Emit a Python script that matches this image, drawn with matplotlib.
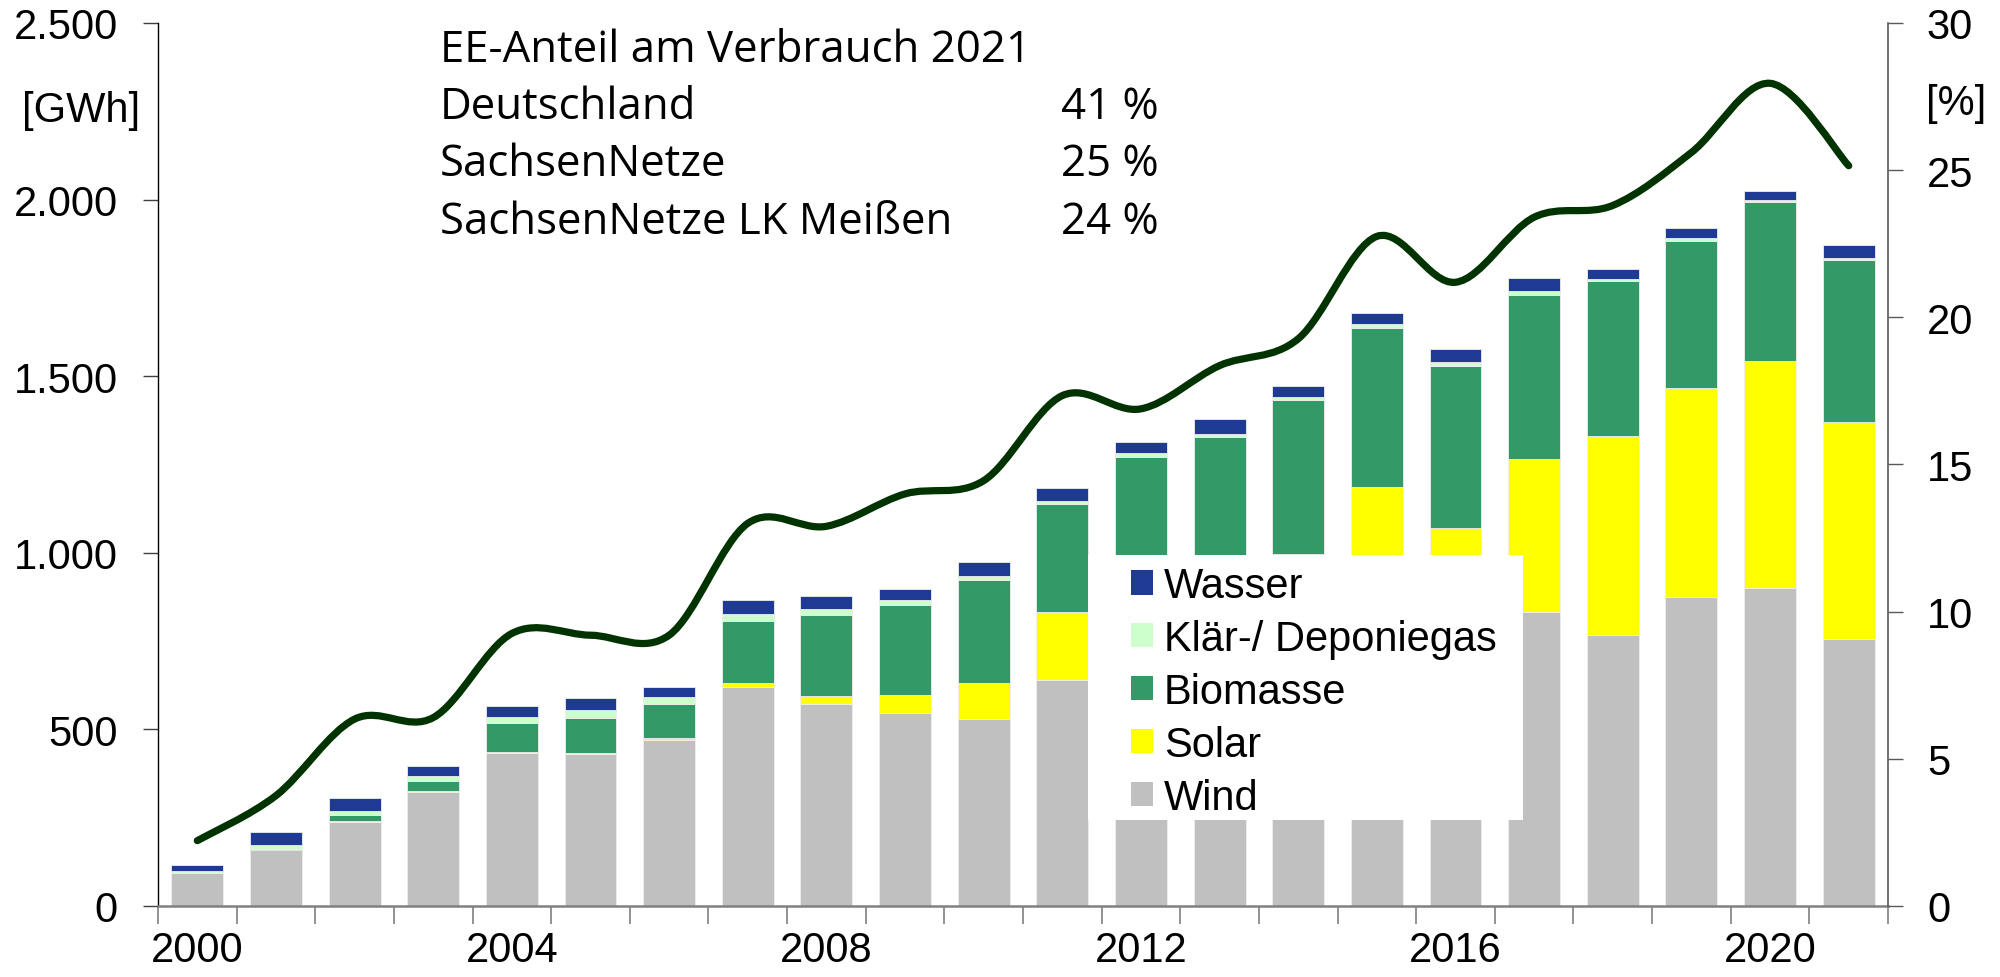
# libraries
import numpy as np
import matplotlib.pyplot as plt
from matplotlib.patches import Rectangle, PathPatch, Patch
from matplotlib.path import Path
from matplotlib.ticker import FuncFormatter

# data [GWh] per year
years = list(range(2000, 2022))
wind = [93, 159, 238, 324, 434, 429, 469, 620, 572, 547, 528, 641, 620, 560, 560, 720, 600, 832, 768, 875, 901, 757]
solar = [0, 0, 2, 1, 1, 4, 6, 10, 22, 49, 103, 190, 350, 400, 437, 467, 469, 434, 562, 592, 641, 612]
biomasse = [1, 3, 17, 29, 84, 99, 97, 177, 229, 255, 291, 307, 302, 367, 435, 450, 461, 465, 439, 417, 452, 461]
klaergas = [6, 10, 11, 15, 16, 23, 19, 21, 18, 14, 11, 10, 11, 9, 10, 10, 10, 9, 7, 6, 5, 5]
wasser = [15, 38, 37, 27, 30, 34, 28, 37, 36, 32, 41, 34, 31, 42, 31, 33, 36, 38, 27, 30, 26, 37]

# EE share of consumption [%]
ee_anteil = [2.22, 3.75, 6.35, 6.4, 9.26, 9.2, 9.2, 13.0, 12.9, 14.0, 14.45, 17.34, 16.89, 18.36, 19.27,
             22.75, 21.19, 23.4, 23.8, 25.6, 27.95, 25.15]

series = [("Wind", wind, "#C0C0C0"), ("Solar", solar, "#FFFF00"), ("Biomasse", biomasse, "#339966"),
          ("Klär-/ Deponiegas", klaergas, "#CCFFCC"), ("Wasser", wasser, "#1F3A93")]

info_rows = [("Deutschland", "41 %"), ("SachsenNetze", "25 %"), ("SachsenNetze LK Meißen", "24 %")]

plt.rcParams['font.family'] = ['Liberation Sans', 'DejaVu Sans']

fig = plt.figure(figsize=(20, 9.78), dpi=100)
ax = fig.add_axes([0.079, 0.0726, 0.865, 0.9029])

x = np.arange(len(years))
bottom = np.zeros(len(years))
for name, vals, col in series:
    ax.bar(x, vals, bottom=bottom, width=0.66, color=col, edgecolor="#eeeeee", linewidth=0.6, zorder=2)
    bottom += np.array(vals)

ax.set_xlim(-0.5, len(years) - 0.5)
ax.set_ylim(0, 2500)
ax.set_yticks(range(0, 2501, 500))
ax.yaxis.set_major_formatter(FuncFormatter(lambda v, p: f"{v:,.0f}".replace(",", ".")))
ax.tick_params(axis="y", labelsize=30, length=11, width=1, color="#404040", pad=18)

ax.set_xticks(x[::4])
ax.set_xticklabels([str(y) for y in years[::4]])
ax.set_xticks(np.arange(-0.5, len(years)), minor=True)
ax.tick_params(axis="x", which="major", length=0, labelsize=30, pad=17)
ax.tick_params(axis="x", which="minor", length=13, width=1.2, color="#808080")

for s in ["top", "right"]:
    ax.spines[s].set_visible(False)
ax.spines["left"].set_color("black")
ax.spines["left"].set_linewidth(1)
ax.spines["bottom"].set_color("#808080")
ax.spines["bottom"].set_linewidth(1.8)

# legend on a white box that covers the bars
ax.add_patch(Rectangle((0.5376, 0.0974), 0.2514, 0.3001, transform=ax.transAxes,
                       facecolor="white", edgecolor="none", zorder=3))
handles = [Patch(facecolor=col, edgecolor="none", label=name) for name, vals, col in series[::-1]]
leg = ax.legend(handles=handles, loc="upper left", bbox_to_anchor=(0.5624, 0.385), frameon=False,
                fontsize=30, handlelength=0.53, handleheight=0.53, handletextpad=0.26,
                labelspacing=0.31, borderpad=0, borderaxespad=0)
leg.set_zorder(4)

# smooth share line on the right axis
ax2 = ax.twinx()
ax2.set_ylim(0, 30)
ax2.set_yticks(range(0, 31, 5))
ax2.tick_params(axis="y", labelsize=30, length=11, width=1, color="#595959", pad=17)
for s in ["top", "left", "bottom"]:
    ax2.spines[s].set_visible(False)
ax2.spines["right"].set_color("#595959")
ax2.spines["right"].set_linewidth(1.2)

pts = np.column_stack([x, ee_anteil])
P = np.vstack([pts[0], pts, pts[-1]])
verts = [pts[0]]
codes = [Path.MOVETO]
for i in range(1, len(P) - 2):
    c1 = P[i] + (P[i + 1] - P[i - 1]) / 6
    c2 = P[i + 1] - (P[i + 2] - P[i]) / 6
    verts += [c1, c2, P[i + 1]]
    codes += [Path.CURVE4] * 3
ax2.add_patch(PathPatch(Path(verts, codes), fill=False, edgecolor="#003300", linewidth=5.2,
                        capstyle="round", joinstyle="round"))

# axis units
fig.text(0.0405, 0.8865, "[GWh]", fontsize=30, ha="center", va="center")
fig.text(0.978, 0.8937, "[%]", fontsize=30, ha="center", va="center")

# info text
fig.text(0.22, 1 - 61.7 / 978, "EE-Anteil am Verbrauch 2021", fontsize=31.5, family="Open Sans", va="baseline")
for i, (label, val) in enumerate(info_rows):
    yb = 1 - (61.7 + 57.4 * (i + 1)) / 978
    fig.text(0.22, yb, label, fontsize=31.5, family="Open Sans", va="baseline")
    fig.text(0.5305, yb, val, fontsize=31.5, family="Open Sans", va="baseline")

fig.savefig("out.png", dpi=100)
